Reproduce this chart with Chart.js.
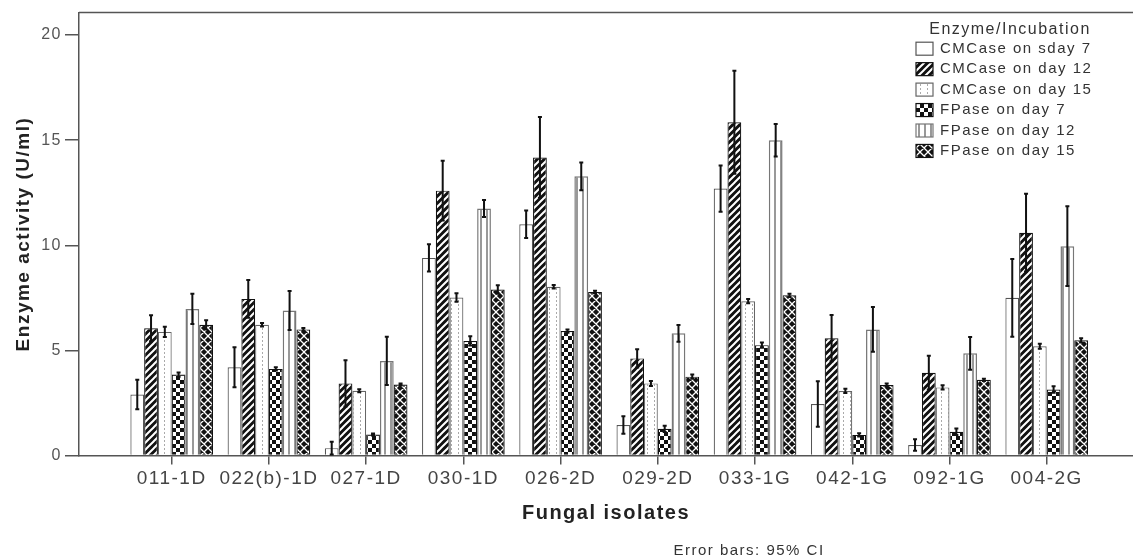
<!DOCTYPE html>
<html>
<head>
<meta charset="utf-8">
<script src="https://cdn.jsdelivr.net/npm/chart.js@4.4.0/dist/chart.umd.min.js"></script>
<style>
  html, body { margin: 0; padding: 0; background: #fff; overflow: hidden; }
  #wrap { width: 1133px; height: 558px; }
</style>
</head>
<body>
<div id="wrap"><canvas id="enzymeChart" width="1133" height="558"></canvas></div>
<script>
const isolates = ['011-1D', '022(b)-1D', '027-1D', '030-1D', '026-2D', '029-2D', '033-1G', '042-1G', '092-1G', '004-2G'];
const seriesNames = ['CMCase on sday 7', 'CMCase on day 12', 'CMCase on day 15', 'FPase on day 7', 'FPase on day 12', 'FPase on day 15'];
const yTicks = [0, 5, 10, 15, 20];

// mean enzyme activity (U/ml)
const cmc7  = [2.9, 4.2, 0.35, 9.4, 11.0, 1.45, 12.7, 2.45, 0.5, 7.5];
const cmc12 = [6.05, 7.45, 3.43, 12.6, 14.18, 4.62, 15.85, 5.58, 3.94, 10.6];
const cmc15 = [5.88, 6.22, 3.08, 7.52, 8.03, 3.43, 7.34, 3.07, 3.24, 5.2];
const fp7   = [3.85, 4.12, 1.0, 5.45, 5.92, 1.27, 5.25, 0.98, 1.13, 3.14];
const fp12  = [6.97, 6.9, 4.5, 11.75, 13.28, 5.81, 15.0, 6.0, 4.86, 9.96];
const fp15  = [6.22, 6.0, 3.38, 7.9, 7.78, 3.75, 7.62, 3.35, 3.6, 5.48];

// 95% CI half widths
const cmc7Ci  = [0.7, 0.95, 0.3, 0.65, 0.65, 0.42, 1.1, 1.08, 0.27, 1.85];
const cmc12Ci = [0.62, 0.9, 1.1, 1.42, 1.92, 0.43, 2.45, 1.1, 0.8, 1.85];
const cmc15Ci = [0.24, 0.08, 0.07, 0.2, 0.08, 0.12, 0.1, 0.1, 0.1, 0.12];
const fp7Ci   = [0.1, 0.08, 0.05, 0.22, 0.08, 0.15, 0.12, 0.08, 0.15, 0.15];
const fp12Ci  = [0.72, 0.93, 1.15, 0.4, 0.66, 0.4, 0.77, 1.07, 0.78, 1.9];
const fp15Ci  = [0.22, 0.06, 0.05, 0.2, 0.06, 0.1, 0.08, 0.08, 0.05, 0.1];

const means = [cmc7, cmc12, cmc15, fp7, fp12, fp15];
const cis = [cmc7Ci, cmc12Ci, cmc15Ci, fp7Ci, fp12Ci, fp15Ci];

const FONT = "'Liberation Sans', Arial, sans-serif";
const SPACING = '1.5px';

const makePattern = (kind) => {
  const c = document.createElement('canvas');
  const p = c.getContext('2d');
  if (kind === 'stripes') {
    c.width = c.height = 7;
    p.fillStyle = '#111'; p.fillRect(0, 0, 7, 7);
    p.strokeStyle = '#fff'; p.lineWidth = 2;
    p.beginPath();
    for (let k = 0; k <= 2; k++) { p.moveTo(-1, k * 7 + 1); p.lineTo(k * 7 + 1, -1); }
    p.stroke();
  } else if (kind === 'lattice') {
    c.width = c.height = 8;
    p.fillStyle = '#111'; p.fillRect(0, 0, 8, 8);
    p.strokeStyle = '#fff'; p.lineWidth = 1.3;
    p.beginPath();
    for (let k = 0; k <= 2; k++) {
      p.moveTo(-1, k * 8 + 1); p.lineTo(k * 8 + 1, -1);
      p.moveTo(-1, 8 - k * 8 - 1); p.lineTo(k * 8 + 1, 9);
    }
    p.stroke();
  } else if (kind === 'checker') {
    c.width = c.height = 8;
    p.fillStyle = '#fff'; p.fillRect(0, 0, 8, 8);
    p.fillStyle = '#111'; p.fillRect(0, 0, 4, 4); p.fillRect(4, 4, 4, 4);
  } else if (kind === 'dots') {
    c.width = 7; c.height = 4;
    p.fillStyle = '#fff'; p.fillRect(0, 0, 7, 4);
    p.fillStyle = '#aaa'; p.fillRect(3, 0, 1, 2);
  } else if (kind === 'vlines') {
    c.width = 6; c.height = 2;
    p.fillStyle = '#fff'; p.fillRect(0, 0, 6, 2);
    p.fillStyle = '#999'; p.fillRect(0, 0, 2, 2);
  } else {
    c.width = c.height = 2;
    p.fillStyle = '#fff'; p.fillRect(0, 0, 2, 2);
  }
  return p.createPattern(c, 'repeat');
};

const fills = ['plain', 'stripes', 'dots', 'checker', 'vlines', 'lattice'].map(makePattern);
const borders = ['#555', '#111', '#666', '#111', '#777', '#111'];

const datasets = means.map((vals, d) => ({
  label: seriesNames[d],
  data: vals.map((v, i) => ({ x: i, y: v })),
  backgroundColor: fills[d],
  borderColor: borders[d],
  borderWidth: d === 4 ? 1.5 : 1.2,
  borderSkipped: 'start',
  categoryPercentage: 0.85,
  barPercentage: 1.0
}));

const spacingPlugin = {
  id: 'spacing',
  beforeUpdate: (chart) => { chart.ctx.letterSpacing = SPACING; },
  beforeDraw: (chart) => { chart.ctx.letterSpacing = SPACING; }
};

const errorBars = {
  id: 'errorBars',
  afterDatasetsDraw: (chart) => {
    const ctx = chart.ctx;
    const yScale = chart.scales.y;
    ctx.save();
    ctx.strokeStyle = '#111';
    ctx.lineWidth = 2;
    means.forEach((vals, d) => {
      const meta = chart.getDatasetMeta(d);
      meta.data.forEach((bar, i) => {
        const hi = yScale.getPixelForValue(vals[i] + cis[d][i]);
        const lo = yScale.getPixelForValue(Math.max(vals[i] - cis[d][i], 0));
        ctx.beginPath();
        ctx.moveTo(bar.x, lo); ctx.lineTo(bar.x, hi);
        ctx.moveTo(bar.x - 2, hi); ctx.lineTo(bar.x + 2, hi);
        ctx.moveTo(bar.x - 2, lo); ctx.lineTo(bar.x + 2, lo);
        ctx.stroke();
      });
    });
    ctx.restore();
  }
};

const frameAndLegend = {
  id: 'frameAndLegend',
  afterDraw: (chart) => {
    const ctx = chart.ctx;
    const area = chart.chartArea;
    ctx.save();
    ctx.letterSpacing = SPACING;
    // top frame line
    ctx.strokeStyle = '#555';
    ctx.lineWidth = 1.5;
    ctx.beginPath();
    ctx.moveTo(area.left, area.top); ctx.lineTo(area.right, area.top);
    ctx.stroke();

    // legend
    ctx.fillStyle = '#333';
    ctx.textBaseline = 'middle';
    ctx.textAlign = 'center';
    ctx.font = '16px ' + FONT;
    ctx.fillText('Enzyme/Incubation', 1010, 30);
    ctx.textAlign = 'left';
    ctx.font = '15px ' + FONT;
    seriesNames.forEach((name, d) => {
      const y = 48.7 + d * 20.45;
      ctx.fillStyle = fills[d];
      ctx.fillRect(916, y - 6.5, 17, 13);
      ctx.strokeStyle = borders[d];
      ctx.lineWidth = 1.2;
      ctx.strokeRect(916, y - 6.5, 17, 13);
      ctx.fillStyle = '#333';
      ctx.fillText(name, 940, y);
    });

    // footnote
    ctx.textAlign = 'center';
    ctx.font = '15px ' + FONT;
    ctx.fillText('Error bars: 95% CI', 749, 551);
    ctx.restore();
  }
};

const config = {
  type: 'bar',
  data: { datasets: datasets },
  options: {
    responsive: false,
    animation: false,
    layout: { padding: { top: 12, left: 0, right: 0, bottom: 0 } },
    plugins: {
      legend: { display: false },
      tooltip: { enabled: false }
    },
    scales: {
      x: {
        type: 'linear',
        min: -0.9535,
        max: 9.8877,
        offset: false,
        afterBuildTicks: (s) => { s.ticks = isolates.map((_, i) => ({ value: i })); },
        afterFit: (s) => { s.height = 102.5; },
        ticks: {
          autoSkip: false,
          maxRotation: 0,
          padding: 3,
          color: '#444',
          font: { family: FONT, size: 19 },
          callback: (v) => isolates[v]
        },
        grid: { offset: false, drawOnChartArea: false, tickLength: 9, color: '#555', lineWidth: 1.5 },
        border: { color: '#555', width: 1.5 },
        title: {
          display: true,
          text: 'Fungal isolates',
          color: '#222',
          font: { family: FONT, size: 20, weight: 'bold' },
          padding: { top: 0, bottom: 33 }
        }
      },
      y: {
        min: 0,
        max: 21.07,
        afterBuildTicks: (s) => { s.ticks = yTicks.map(v => ({ value: v })); },
        afterFit: (s) => { s.width = 79; },
        ticks: {
          padding: 3,
          color: '#555',
          font: { family: FONT, size: 16 }
        },
        grid: { drawOnChartArea: false, tickLength: 14, color: '#555', lineWidth: 1.5 },
        border: { color: '#555', width: 1.5 },
        title: {
          display: true,
          text: 'Enzyme activity (U/ml)',
          color: '#222',
          font: { family: FONT, size: 19, weight: 'bold' },
          padding: { top: 12, bottom: 0 }
        }
      }
    }
  },
  plugins: [spacingPlugin, errorBars, frameAndLegend]
};

const enzymeChart = new Chart(document.getElementById('enzymeChart'), config);
</script>
</body>
</html>
